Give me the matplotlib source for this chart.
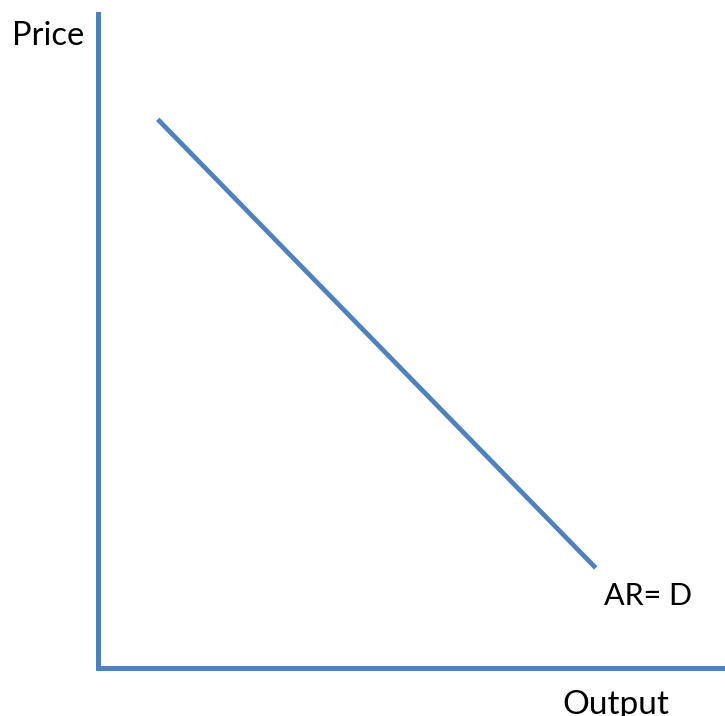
import matplotlib
matplotlib.use("Agg")
import matplotlib.pyplot as plt

# demand curve (output, price) end points
output = [0.96, 7.94]
price = [8.39, 1.53]

blue = "#4f81bd"

fig = plt.figure(figsize=(7.25, 7.16), dpi=100)
ax = fig.add_axes([97.5 / 725, 48 / 716, 627.5 / 725, 654 / 716])
ax.plot(output, price, color=blue, lw=3.4, solid_capstyle="butt")
ax.set_xlim(0, 10)
ax.set_ylim(0, 10)
ax.set_xticks([])
ax.set_yticks([])
for s in ["top", "right"]:
    ax.spines[s].set_visible(False)
for s in ["left", "bottom"]:
    ax.spines[s].set_color(blue)
    ax.spines[s].set_linewidth(3.6)

fig.text(12 / 725, 1 - 45 / 716, "Price", fontsize=23.5, family="Lato",
         ha="left", va="baseline")
fig.text(604 / 725, 1 - 605 / 716, "AR= D", fontsize=22, family="Lato",
         ha="left", va="baseline")
fig.text(562 / 725, 1 - 714 / 716, "Output", fontsize=24, family="Lato",
         ha="left", va="baseline")

fig.savefig("out.png", dpi=100)
